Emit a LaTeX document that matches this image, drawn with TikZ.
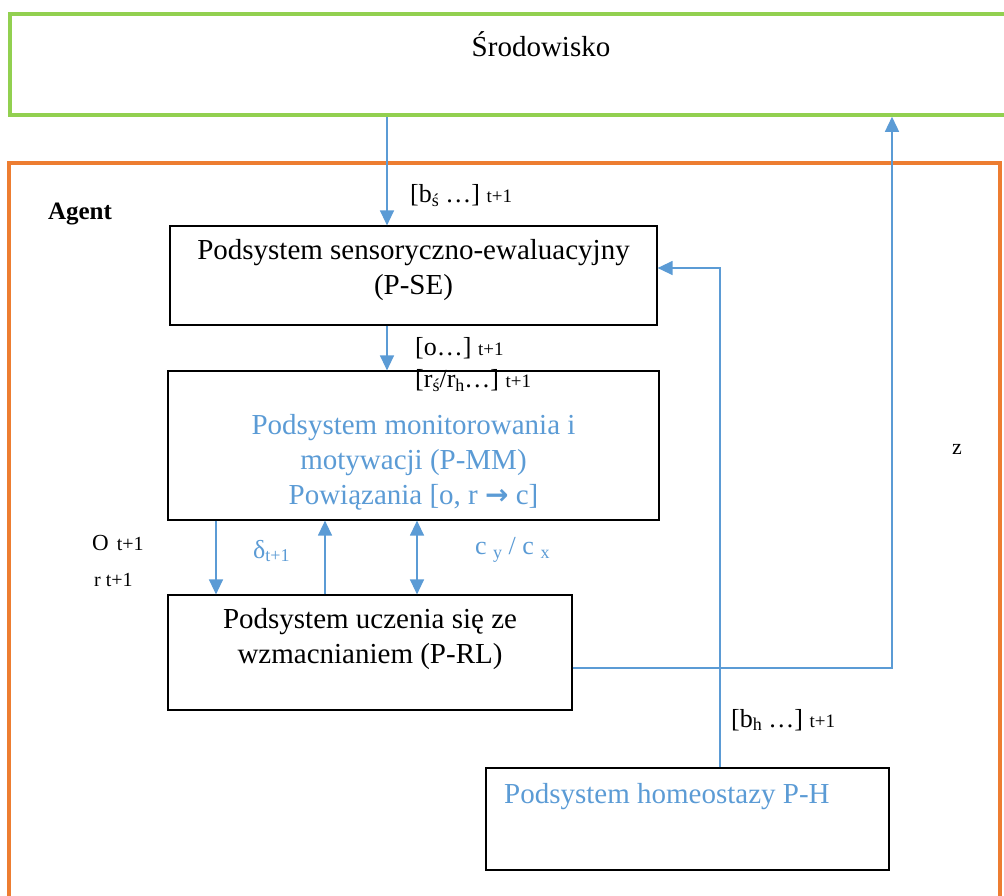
\documentclass[tikz,border=0pt]{standalone}
\usepackage{fontspec}
\setmainfont{Liberation Serif}
\newfontfamily\arrowfont{DejaVu Sans}
\usetikzlibrary{arrows.meta,calc}
\definecolor{envgreen}{HTML}{92D050}
\definecolor{agorange}{HTML}{ED7D31}
\definecolor{lblue}{HTML}{5B9BD5}
\newcommand\lowsub[1]{\raisebox{-0.15em}{\fontsize{18}{18}\selectfont #1}}
\newcommand\smalltt[1]{{\fontsize{19}{20}\selectfont #1}}
\begin{document}
\begin{tikzpicture}[x=1pt,y=-1pt,
  sysbox/.style={draw=black,line width=1.2pt,inner sep=0pt},
  maintext/.style={font=\fontsize{29}{35}\selectfont,align=center,inner sep=0pt},
  lbl/.style={font=\fontsize{26}{30}\selectfont,inner sep=0pt},
  conn/.style={draw=lblue,line width=1.3pt},
  arr/.style={conn,-{Triangle[width=14pt,length=15pt]}},
  darr/.style={conn,{Triangle[width=14pt,length=15pt]}-{Triangle[width=14pt,length=15pt]}}]
\useasboundingbox (0,0) rectangle (1004,895);
\clip (0,0) rectangle (1004,895);
% environment and agent frames
\node[draw=envgreen,line width=3.5pt,minimum width=1010pt,minimum height=101pt,inner sep=0pt] (env) at (515,64.5) {};
\node[maintext] (envtext) at (541,44) {Środowisko};
\node[draw=agorange,line width=4pt,minimum width=991pt,minimum height=760pt,inner sep=0pt] (agent) at (504.5,543) {};
\node[font=\fontsize{25}{30}\selectfont\bfseries,inner sep=0pt] (agenttext) at (80,214) {Agent};
% subsystems
\node[sysbox,minimum width=487pt,minimum height=99pt] (pse) at (413.5,275.5) {};
\node[maintext] (psetext) at (413.5,270) {Podsystem sensoryczno-ewaluacyjny\\(P-SE)};
\node[sysbox,minimum width=491pt,minimum height=149pt] (pmm) at (413.5,445.5) {};
\node[maintext,text=lblue] (pmmtext) at (413.5,462) {Podsystem monitorowania i\\motywacji (P-MM)\\Powiązania [o, r {\arrowfont\bfseries\fontsize{28}{28}\selectfont →} c]};
\node[sysbox,minimum width=404pt,minimum height=115pt] (prl) at (370,652.5) {};
\node[maintext] (prltext) at (370,639.5) {Podsystem uczenia się ze\\wzmacnianiem (P-RL)};
\node[sysbox,minimum width=403pt,minimum height=102pt] (ph) at (687.5,819) {};
\node[maintext,text=lblue,anchor=west] (phtext) at (504,797) {Podsystem homeostazy P-H};
% guide coordinates
\coordinate (x387) at (387,0);
\coordinate (x216) at (216,0);
\coordinate (x325) at (325,0);
\coordinate (x417) at (417,0);
\coordinate (x892) at (892,0);
\coordinate (x720) at (720,0);
\coordinate (y668) at (0,668);
\coordinate (y268) at (0,268);
\coordinate (turn1) at (892,668);
\coordinate (turn2) at (720,268);
% connectors
\draw[arr] (env.south -| x387) -- (pse.north -| x387);
\draw[arr] (pse.south -| x387) -- (pmm.north -| x387);
\draw[arr] (pmm.south -| x216) -- (prl.north -| x216);
\draw[arr] (prl.north -| x325) -- (pmm.south -| x325);
\draw[darr] (pmm.south -| x417) -- (prl.north -| x417);
\draw[arr] (prl.east |- y668) -- (turn1) -- (env.south -| x892);
\draw[arr] (ph.north -| x720) -- (turn2) -- (pse.east |- y268);
% labels
\node[lbl,anchor=west] (lbs) at (410,196) {[b\lowsub{ś} …] \smalltt{t+1}};
\node[lbl,anchor=west] (lo) at (415,348) {[o…] \smalltt{t+1}};
\node[lbl,anchor=west] (lr) at (415,381) {[r\lowsub{ś}/r\lowsub{h}…] \smalltt{t+1}};
\node[font=\fontsize{20}{22}\selectfont,inner sep=0pt,anchor=west] (lot) at (92,543) {{\fontsize{23}{24}\selectfont O}\hspace{8pt}t+1};
\node[font=\fontsize{20}{22}\selectfont,inner sep=0pt,anchor=west] (lrt) at (94,580) {r t+1};
\node[lbl,text=lblue,anchor=west] (ldelta) at (253,551) {δ\lowsub{t+1}};
\node[lbl,text=lblue,anchor=west] (lc) at (475,550) {c \lowsub{y} / c \lowsub{x}};
\node[lbl,anchor=west] (lbh) at (731,720) {[b\lowsub{h} …] \smalltt{t+1}};
\node[font=\fontsize{22}{24}\selectfont,inner sep=0pt] (lz) at (957,449) {z};
\end{tikzpicture}
\end{document}
